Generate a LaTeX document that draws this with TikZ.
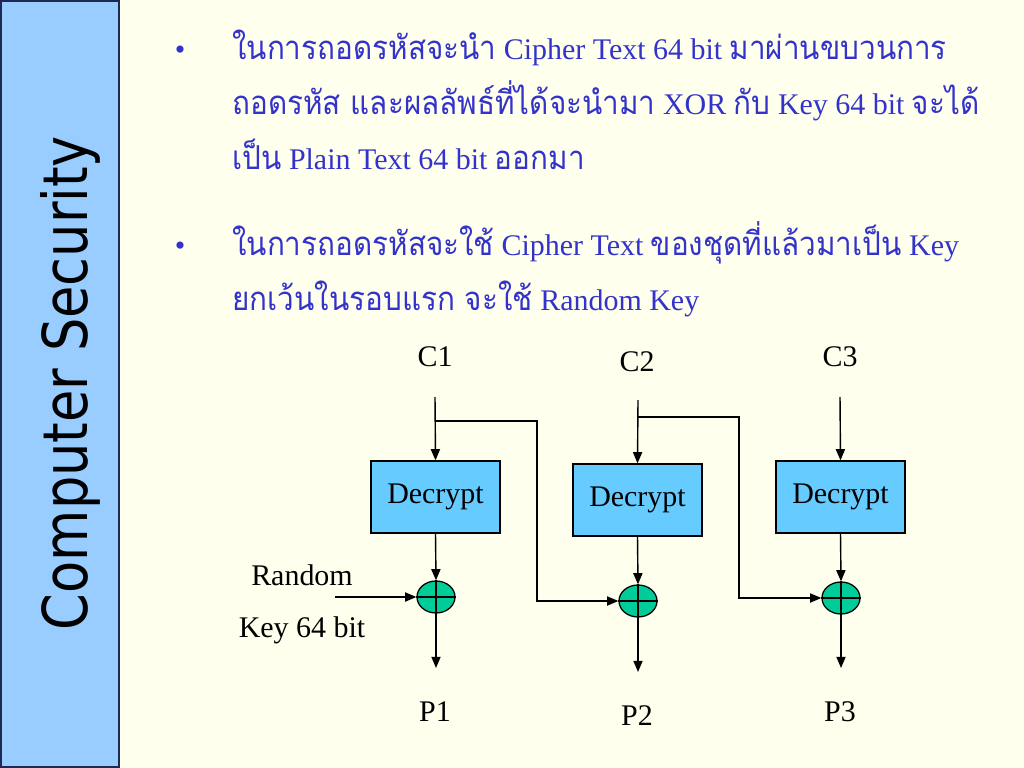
\documentclass[tikz,border=0pt]{standalone}
\usepackage{fontspec}
\setmainfont{Liberation Serif}
\newfontfamily\thaifont[Script=Thai,Scale=1.1,FakeStretch=0.9]{Loma}
\newfontfamily\sidefont[FakeStretch=0.85]{DejaVu Sans}
\usetikzlibrary{shapes.geometric,arrows.meta}

\definecolor{slidebg}{RGB}{255,255,238}
\definecolor{barblue}{RGB}{153,204,255}
\definecolor{barline}{RGB}{30,40,80}
\definecolor{textblue}{RGB}{51,51,204}
\definecolor{boxblue}{RGB}{102,204,255}
\definecolor{xorgreen}{RGB}{0,204,153}

\newcommand{\thai}[1]{{\thaifont #1}}

\tikzset{
  bodytext/.style={text=textblue, anchor=base west, inner sep=0pt,
    font=\fontsize{21.3pt}{26pt}\selectfont},
  bulletmark/.style={text=textblue, anchor=base, inner sep=0pt,
    font=\fontsize{21.3pt}{26pt}\selectfont},
  lbl/.style={inner sep=0pt, font=\fontsize{21.3pt}{26pt}\selectfont},
  decbox/.style={draw=black, fill=boxblue, line width=0.9pt,
    minimum width=3.225cm, minimum height=1.8cm, inner sep=0pt,
    font=\fontsize{21.3pt}{26pt}\selectfont},
  xorop/.style={ellipse, draw=black, fill=xorgreen, line width=0.9pt,
    minimum width=0.95cm, minimum height=0.8cm, inner sep=0pt},
  arr/.style={line width=1pt, -{Triangle[length=8pt,width=6.5pt]}},
  wire/.style={line width=1pt}
}

\begin{document}
\begin{tikzpicture}[x=0.025cm, y=-0.025cm]
  \filldraw[fill=slidebg, draw=none] (0,0) rectangle (1024,768);
  \useasboundingbox (0,0) rectangle (1024,768);
  % side bar
  \filldraw[fill=barblue, draw=barline, line width=1pt] (1,1) rectangle (119,767);
  \node[rotate=90, inner sep=0pt, font=\sidefont\fontsize{44pt}{48pt}\selectfont] (side) at (70,383) {Computer Security};

  % bullet text
  \node[bulletmark] (b1) at (180,60) {\textbullet};
  \node[bodytext] (l1) at (232,60) {\thai{ในการถอดรหัสจะนำ} Cipher Text 64 bit \thai{มาผ่านขบวนการ}};
  \node[bodytext] (l2) at (232,115) {\thai{ถอดรหัส และผลลัพธ์ที่ได้จะนำมา} XOR \thai{กับ} Key 64 bit \thai{จะได้}};
  \node[bodytext] (l3) at (232,170) {\thai{เป็น} Plain Text 64 bit \thai{ออกมา}};
  \node[bulletmark] (b2) at (180,255) {\textbullet};
  \node[bodytext] (l4) at (232,255) {\thai{ในการถอดรหัสจะใช้} Cipher Text \thai{ของชุดที่แล้วมาเป็น} Key};
  \node[bodytext] (l5) at (232,310) {\thai{ยกเว้นในรอบแรก จะใช้} Random Key};

  % labels
  \node[lbl] (c1) at (435,357) {C1};
  \node[lbl] (c2) at (637,362) {C2};
  \node[lbl] (c3) at (840,357) {C3};
  \node[lbl] (p1) at (435,712) {P1};
  \node[lbl] (p2) at (637,716) {P2};
  \node[lbl] (p3) at (840,712) {P3};
  \node[lbl] (rnd) at (302,575) {Random};
  \node[lbl] (key) at (302,630) {Key 64 bit};

  % blocks
  \node[decbox] (d1) at (435.5,497) {Decrypt};
  \node[decbox] (d2) at (637.5,500) {Decrypt};
  \node[decbox] (d3) at (840.5,497) {Decrypt};
  \node[xorop] (x1) at (436,597) {};
  \node[xorop] (x2) at (638,601) {};
  \node[xorop] (x3) at (841,598) {};
  \foreach \n in {x1,x2,x3}
    \draw[wire] (\n.north) -- (\n.south) (\n.west) -- (\n.east);

  \coordinate (i1) at (435,397);
  \coordinate (i2) at (638,400);
  \coordinate (i3) at (840,397);
  \coordinate (o1) at (436,668);
  \coordinate (o2) at (638,672);
  \coordinate (o3) at (841,668);
  \coordinate (j1) at (435,421);
  \coordinate (j2) at (638,417);
  \coordinate (k1) at (537,601);
  \coordinate (k2) at (739,598);
  \coordinate (rk) at (335,597);

  \draw[arr] (i1) -- (d1.north);
  \draw[arr] (i2) -- (d2.north);
  \draw[arr] (i3) -- (d3.north);
  \draw[arr] (d1.south) -- (x1.north);
  \draw[arr] (d2.south) -- (x2.north);
  \draw[arr] (d3.south) -- (x3.north);
  \draw[arr] (x1.south) -- (o1);
  \draw[arr] (x2.south) -- (o2);
  \draw[arr] (x3.south) -- (o3);
  \draw[arr] (rk) -- (x1.west);
  \draw[arr] (j1) -| (k1) -- (x2.west);
  \draw[arr] (j2) -| (k2) -- (x3.west);
\end{tikzpicture}
\end{document}
